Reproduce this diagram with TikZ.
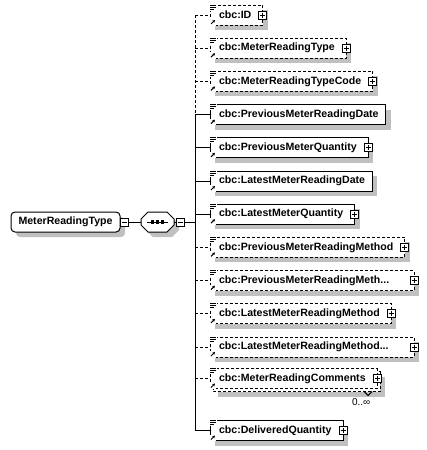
\documentclass[tikz,border=0pt]{standalone}
\usepackage{fontspec}
\setmainfont{Liberation Sans}
\usepackage{tikz}
\usetikzlibrary{arrows.meta, positioning, shadows, calc, backgrounds}
\definecolor{grisSombra}{HTML}{C0C0C0}
\definecolor{tintaNodo}{HTML}{000000}
\colorlet{colBorde}{black}
\tikzset{
  sombra/.style={drop shadow={shadow xshift=5pt, shadow yshift=-5pt,
    fill=grisSombra, opacity=1}},
  trazoOpc/.style={dash pattern=on 3pt off 2pt},
  cajaBase/.style={
    draw=colBorde, line width=1pt, fill=white, outer sep=0pt,
    minimum height=20pt, inner ysep=0pt, inner xsep=7pt,
    font=\fontsize{10.6}{12}\selectfont\bfseries, text=tintaNodo
  },
  cajaRaiz/.style={cajaBase, sombra, rounded corners=4pt, inner xsep=7.5pt},
  cajaElem/.style={cajaBase, sombra, execute at begin node={\hspace*{2pt}}},
  cajaOpc/.style={cajaElem, trazoOpc},
  cajaMulti/.style={cajaBase, trazoOpc, execute at begin node={\hspace*{2pt}}},
  conMas/.style={execute at end node={\hspace*{4.5pt}}},
  recortada/.style={text width=190pt, align=left},
  secuencia/.style={minimum width=33pt, minimum height=20pt, inner sep=0pt, outer sep=0pt},
  boton/.style={draw=colBorde, line width=1pt, fill=white, minimum size=8pt,
    inner sep=0pt, outer sep=0pt},
  signo/.style={line width=1pt, colBorde},
  conector/.style={line width=1pt, colBorde},
  conectorOpc/.style={conector, trazoOpc},
  icono/.style={line width=1pt, colBorde},
  multiplicidad/.style={font=\fontsize{10}{12}\selectfont, text=tintaNodo, inner sep=0pt},
}
\newcommand{\botonMas}[1]{%
  \node[boton] (#1Mas) at (#1.east) {};
  \draw[signo] ($(#1Mas.center)+(-2.5,0)$) -- ++(5,0)
               ($(#1Mas.center)+(0,-2.5)$) -- ++(0,5);}
\newcommand{\botonMenos}[2][0pt]{%
  \node[boton, right=#1 of #2] (#2Menos) {};
  \draw[signo] ($(#2Menos.center)+(-2.5,0)$) -- ++(5,0);}
\newcommand{\iconosElem}[1]{%
  \fill[white] ($(#1.north west)+(-0.5,-0.5)$) rectangle ++(7.5,6);
  \draw[icono] (#1.north west) -- ++(6,0)
               ($(#1.north west)+(0,2)$) -- ++(6,0)
               ($(#1.north west)+(0,4)$) -- ++(4,0);
  \fill[white] ($(#1.south west)+(-0.5,0.5)$) rectangle ++(6.5,-6.5);
  \draw[icono, -{Stealth[length=2.8pt, width=3pt]}]
    ($(#1.south west)+(1,-1)$) -- ++(4,-4);}

\begin{document}
\begin{tikzpicture}[x=1pt, y=-1pt]
  \useasboundingbox (0,0) rectangle (426,450);

  % tipo raiz y secuencia
  \node[cajaRaiz, anchor=west] (raiz) at (11,222) {MeterReadingType};
  \botonMenos{raiz}
  \node[secuencia] (sec) at (157.5,222) {};
  \draw[line width=1pt, fill=white, sombra]
    ($(sec.north west)+(7,0)$) -- ($(sec.north east)+(-7,0)$)
    -- ($(sec.north east)+(0,7)$) -- ($(sec.south east)+(0,-7)$)
    -- ($(sec.south east)+(-7,0)$) -- ($(sec.south west)+(7,0)$)
    -- ($(sec.south west)+(0,-7)$) -- ($(sec.north west)+(0,7)$) -- cycle;
  \draw[line width=1pt] ($(sec.center)+(-10.5,0)$) -- ($(sec.center)+(10.5,0)$);
  \foreach \d in {-5,0,5}
    \fill ($(sec.center)+(\d,0)$) +(-1.7,-1.7) rectangle +(1.7,1.7);
  \botonMenos[2pt]{sec}
  \coordinate (bus) at (195,222);

  % elementos hijos
  \node[cajaOpc, conMas, anchor=west] (id) at (210,15) {cbc:ID};
  \node[cajaOpc, conMas, below=13.2pt of id.south west, anchor=north west] (tipoLectura) {cbc:MeterReadingType};
  \node[cajaOpc, conMas, below=13.2pt of tipoLectura.south west, anchor=north west] (codigoTipo) {cbc:MeterReadingTypeCode};
  \node[cajaElem, below=13.2pt of codigoTipo.south west, anchor=north west] (fechaAnt) {cbc:PreviousMeterReadingDate};
  \node[cajaElem, conMas, below=13.2pt of fechaAnt.south west, anchor=north west] (cantidadAnt) {cbc:PreviousMeterQuantity};
  \node[cajaElem, below=13.2pt of cantidadAnt.south west, anchor=north west] (fechaUlt) {cbc:LatestMeterReadingDate};
  \node[cajaElem, conMas, below=13.2pt of fechaUlt.south west, anchor=north west] (cantidadUlt) {cbc:LatestMeterQuantity};
  \node[cajaOpc, conMas, below=13.2pt of cantidadUlt.south west, anchor=north west] (metodoAnt) {cbc:PreviousMeterReadingMethod};
  \node[cajaOpc, recortada, below=13.2pt of metodoAnt.south west, anchor=north west] (metodoAntDesc) {cbc:PreviousMeterReadingMeth...};
  \node[cajaOpc, conMas, below=13.2pt of metodoAntDesc.south west, anchor=north west] (metodoUlt) {cbc:LatestMeterReadingMethod};
  \node[cajaOpc, recortada, below=13.2pt of metodoUlt.south west, anchor=north west] (metodoUltDesc) {cbc:LatestMeterReadingMethod...};
  \node[cajaMulti, conMas, below=11.5pt of metodoUltDesc.south west, anchor=north west] (coment) {cbc:MeterReadingComments};
  \begin{scope}[on background layer]
    \path[draw=colBorde, line width=1pt, trazoOpc, fill=white, sombra]
      ($(coment.north west)+(3,3)$) rectangle ($(coment.south east)+(3,3)$);
  \end{scope}
  \node[cajaElem, conMas, below=32pt of coment.south west, anchor=north west] (entregada) {cbc:DeliveredQuantity};

  % multiplicidad
  \draw[conector] ($(coment.south east)+(-13,3)$) -- ++(4,4) -- ++(4,-4);
  \node[multiplicidad] (ocurr) at ($(coment.south east)+(-16,14)$) {0..∞};

  % conectores
  \draw[conector] (raizMenos) -- (sec);
  \draw[conector] (sec) -- (secMenos);
  \draw[conector] (secMenos) -- (bus);
  \draw[conectorOpc] (bus |- id) -- (bus |- fechaAnt);
  \draw[conector] (bus |- fechaAnt) -- (bus |- entregada);
  \draw[conectorOpc] (bus |- id) -- (id);
  \draw[conectorOpc] (bus |- tipoLectura) -- (tipoLectura);
  \draw[conectorOpc] (bus |- codigoTipo) -- (codigoTipo);
  \draw[conector] (bus |- fechaAnt) -- (fechaAnt);
  \draw[conector] (bus |- cantidadAnt) -- (cantidadAnt);
  \draw[conector] (bus |- fechaUlt) -- (fechaUlt);
  \draw[conector] (bus |- cantidadUlt) -- (cantidadUlt);
  \draw[conectorOpc] (bus |- metodoAnt) -- (metodoAnt);
  \draw[conectorOpc] (bus |- metodoAntDesc) -- (metodoAntDesc);
  \draw[conectorOpc] (bus |- metodoUlt) -- (metodoUlt);
  \draw[conectorOpc] (bus |- metodoUltDesc) -- (metodoUltDesc);
  \draw[conectorOpc] (bus |- coment) -- (coment);
  \draw[conector] (bus |- entregada) -- (entregada);

  % iconos y botones
  \iconosElem{id} \iconosElem{tipoLectura} \iconosElem{codigoTipo}
  \iconosElem{fechaAnt} \iconosElem{cantidadAnt} \iconosElem{fechaUlt}
  \iconosElem{cantidadUlt} \iconosElem{metodoAnt} \iconosElem{metodoAntDesc}
  \iconosElem{metodoUlt} \iconosElem{metodoUltDesc} \iconosElem{coment}
  \iconosElem{entregada}
  \botonMas{id} \botonMas{tipoLectura} \botonMas{codigoTipo}
  \botonMas{cantidadAnt} \botonMas{cantidadUlt} \botonMas{metodoAnt}
  \botonMas{metodoAntDesc} \botonMas{metodoUlt} \botonMas{metodoUltDesc}
  \botonMas{coment} \botonMas{entregada}
\end{tikzpicture}
\end{document}
